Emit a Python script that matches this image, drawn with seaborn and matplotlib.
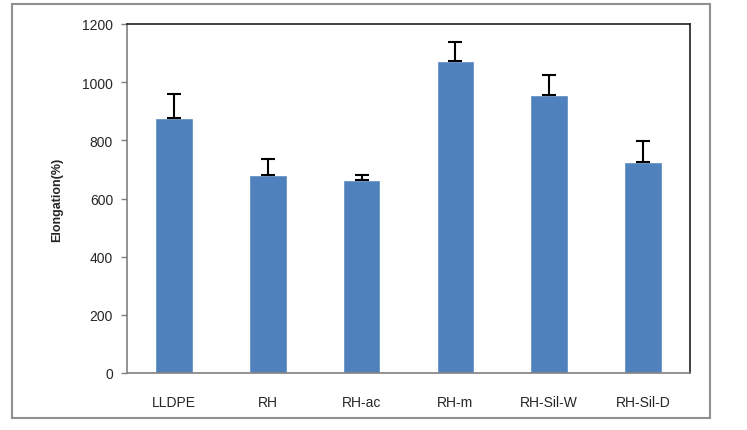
import numpy as np
import pandas as pd
import matplotlib
matplotlib.use("Agg")
import matplotlib.pyplot as plt
import seaborn as sns
from matplotlib.patches import Rectangle

# values
samples = ["LLDPE", "RH", "RH-ac", "RH-m", "RH-Sil-W", "RH-Sil-D"]
elongation = [877, 682, 662, 1074, 956, 726]
elongation_err = [84, 53, 18, 63, 69, 70]
y_ticks = [0, 200, 400, 600, 800, 1000, 1200]

bar_color = "#4F81BD"

sns.set_style("white")
plt.rcParams["font.family"] = ["Liberation Sans", "DejaVu Sans"]

fig = plt.figure(figsize=(7.47, 4.31), dpi=100)
ax = fig.add_axes([127 / 747, (431 - 374) / 431, (690 - 127) / 747, (374 - 25) / 431])

df = pd.DataFrame({"sample": samples, "elongation": elongation})
sns.barplot(data=df, x="sample", y="elongation", color=bar_color,
            saturation=1, width=0.4, ax=ax, errorbar=None)

# plus-only error bars, like Excel
ax.errorbar(np.arange(len(samples)), elongation,
            yerr=[np.zeros(len(samples)), elongation_err],
            fmt="none", ecolor="black", elinewidth=1.5, capsize=5, capthick=1.5, zorder=5)

ax.set_ylim(0, 1200)
ax.set_yticks(y_ticks)
ax.set_xlim(-0.5, len(samples) - 0.5)
ax.set_xlabel("")
ax.set_ylabel("Elongation(%)", fontsize=9, fontweight="bold", labelpad=14)
ax.tick_params(axis="y", which="major", left=True, length=4, width=1, color="#808080",
               labelsize=10, pad=6)
ax.tick_params(axis="x", bottom=False, labelsize=10, pad=12)

for side in ["top", "right"]:
    ax.spines[side].set_color("#202020")
    ax.spines[side].set_linewidth(1.2)
for side in ["left", "bottom"]:
    ax.spines[side].set_color("#808080")
    ax.spines[side].set_linewidth(1.2)

# outer chart border
fig.patches.append(Rectangle((12 / 747, (431 - 419) / 431), (710 - 12) / 747, (419 - 5) / 431,
                             transform=fig.transFigure, fill=False,
                             edgecolor="#909090", linewidth=1.5))

fig.savefig("out.png", dpi=100)
